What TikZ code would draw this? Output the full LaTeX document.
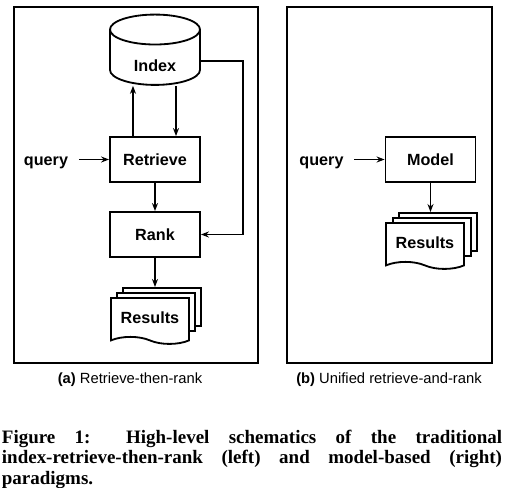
\documentclass[tikz,border=0pt]{standalone}
\usepackage{fontspec}
\setmainfont{Liberation Serif}
\setsansfont{Liberation Sans}
\usepackage{tikz}
\usetikzlibrary{shapes.geometric, shapes.symbols, arrows.meta, positioning, calc}

\begin{document}
\begin{tikzpicture}[
    x=0.025cm, y=-0.025cm,
    frame/.style={draw, line width=1.3pt},
    box/.style={draw, line width=1.3pt, fill=white, minimum width=2.25cm, minimum height=1.125cm, font=\sffamily\bfseries\fontsize{11.5}{13}\selectfont},
    store/.style={draw, line width=1.3pt, fill=white, cylinder, shape border rotate=90, aspect=0.58, minimum width=2.25cm, minimum height=1.7cm, text height=15.5pt, text depth=0pt, font=\sffamily\bfseries\fontsize{11.5}{13}\selectfont},
    page/.style={draw, line width=1.3pt, fill=white, minimum width=1.95cm, minimum height=0.95cm},
    doc/.style={draw, line width=1.3pt, fill=white, tape, tape bend top=none, tape bend bottom=out and in, tape bend height=5pt, minimum width=1.95cm, minimum height=1.15cm, font=\sffamily\bfseries\fontsize{11.5}{13}\selectfont},
    word/.style={font=\sffamily\bfseries\fontsize{11.5}{13}\selectfont},
    arr/.style={-{Stealth[length=2mm, width=1.5mm]}, line width=1.1pt},
    sub/.style={font=\sffamily\fontsize{10.5}{12}\selectfont}
]
    \useasboundingbox (0,0) rectangle (508,488);

    % Panels
    \draw[frame] (14,7) rectangle (258,363);
    \draw[frame] (287,7) rectangle (492,363);

    % Retrieve-then-rank
    \node[store] (idx) at (155,61) {Index};
    \node[box] (retrieve) at (155,159.5) {Retrieve};
    \node[box] (rank) at (155,234.5) {Rank};
    \node[word] (qa) at (46,162.5) {query};
    \node[page, anchor=north west] (resA3) at (122,287) {};
    \node[page, anchor=north west] (resA2) at (116,292) {};
    \node[doc, anchor=north west] (resA1) at (110,297) {Results};

    % Unified retrieve-and-rank
    \node[box] (model) at (430.5,159.5) {Model};
    \node[word] (qb) at (321.5,162.5) {query};
    \node[page, anchor=north west] (resB3) at (398,212) {};
    \node[page, anchor=north west] (resB2) at (392,217) {};
    \node[doc, anchor=north west] (resB1) at (385,222) {Results};

    % Connections
    \draw[arr, shorten <=1.5mm] (qa.east |- retrieve) -- (retrieve);
    \draw[arr] ([xshift=-0.55cm]retrieve.north) -- ([xshift=-0.55cm]idx.south);
    \draw[arr] ([xshift=0.525cm]idx.south) -- ([xshift=0.525cm]retrieve.north);
    \draw[arr] (retrieve) -- (rank);
    \draw[arr] (idx.east) -- ++(42,0) |- (rank.east);
    \draw[arr] (rank.south) -- (rank.south |- resA3.north);

    \draw[arr, shorten <=1.5mm] (qb.east |- model) -- (model);
    \draw[arr] (model.south) -- (model.south |- resB3.north);

    % Captions
    \node[sub] (capa) at (130,380) {\textbf{(a)} Retrieve-then-rank};
    \node[sub] (capb) at (389,380) {\textbf{(b)} Unified retrieve-and-rank};
    \node[anchor=north, text width=12.5cm, align=justify, inner sep=0pt, font=\bfseries\fontsize{13.5}{14.4}\selectfont] (fig) at (252,430)
        {Figure 1: High-level schematics of the traditional\linebreak index-retrieve-then-rank (left) and model-based (right)\linebreak paradigms.};
\end{tikzpicture}
\end{document}
